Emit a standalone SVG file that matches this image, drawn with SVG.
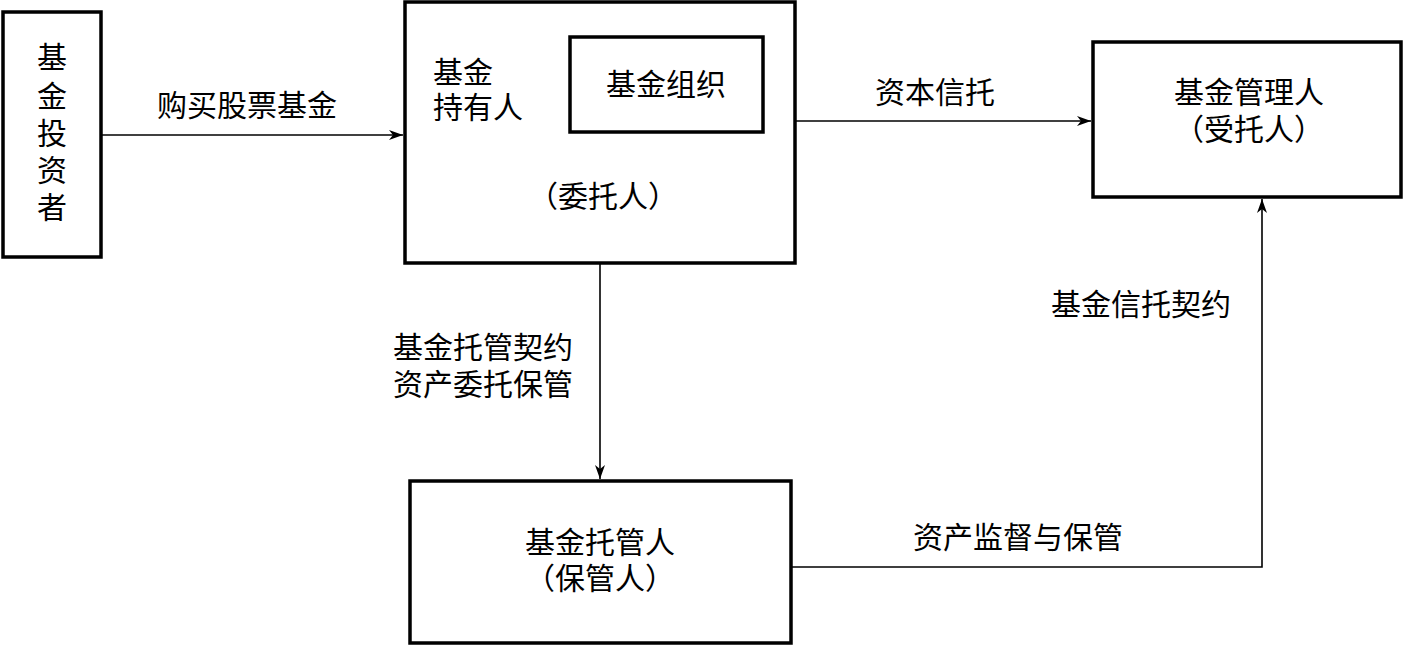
<svg xmlns="http://www.w3.org/2000/svg" width="1404" height="646" viewBox="0 0 1404 646">
<style>
.box{fill:#fff;stroke:#000;stroke-width:3.5}
.ln{fill:none;stroke:#000;stroke-width:1.6}
text{font-family:"Liberation Serif","Noto Sans CJK SC",serif;font-size:30px;fill:#000}
.c{text-anchor:middle}
</style>
<defs>
<marker id="ah" markerUnits="userSpaceOnUse" markerWidth="16" markerHeight="10" refX="14" refY="5" orient="auto">
<path d="M0,0 L14,5 L0,10 L4,5 z" fill="#000"/>
</marker>
</defs>
<rect width="1404" height="646" fill="#fff"/>
<g id="connectors">
<line class="ln" x1="101" y1="135" x2="403" y2="135" marker-end="url(#ah)"/>
<line class="ln" x1="795" y1="121" x2="1091" y2="121" marker-end="url(#ah)"/>
<line class="ln" x1="600" y1="264" x2="600" y2="479" marker-end="url(#ah)"/>
<polyline class="ln" points="791,567 1262,567 1262,199" marker-end="url(#ah)"/>
<text x="247" y="116" class="c">购买股票基金</text>
<text x="935" y="103" class="c">资本信托</text>
<text x="483" y="358" class="c">基金托管契约</text>
<text x="483" y="395" class="c">资产委托保管</text>
<text x="1141" y="315" class="c">基金信托契约</text>
<text x="1018" y="548" class="c">资产监督与保管</text>
</g>
<g id="investor">
<rect class="box" x="3" y="12" width="98" height="245"/>
<text x="52" y="68" class="c">基</text>
<text x="52" y="107" class="c">金</text>
<text x="52" y="144" class="c">投</text>
<text x="52" y="181" class="c">资</text>
<text x="52" y="218" class="c">者</text>
</g>
<g id="holder">
<rect class="box" x="405" y="2" width="390" height="261"/>
<text x="433" y="83">基金</text>
<text x="433" y="118">持有人</text>
<text x="603" y="207" class="c">（委托人）</text>
</g>
<g id="fund-org">
<rect class="box" x="570" y="37" width="193" height="95"/>
<text x="666" y="95" class="c">基金组织</text>
</g>
<g id="manager">
<rect class="box" x="1093" y="42" width="308" height="155"/>
<text x="1249" y="103" class="c">基金管理人</text>
<text x="1249" y="140" class="c">（受托人）</text>
</g>
<g id="custodian">
<rect class="box" x="410" y="481" width="381" height="162"/>
<text x="600" y="553" class="c">基金托管人</text>
<text x="600" y="589" class="c">（保管人）</text>
</g>
</svg>
